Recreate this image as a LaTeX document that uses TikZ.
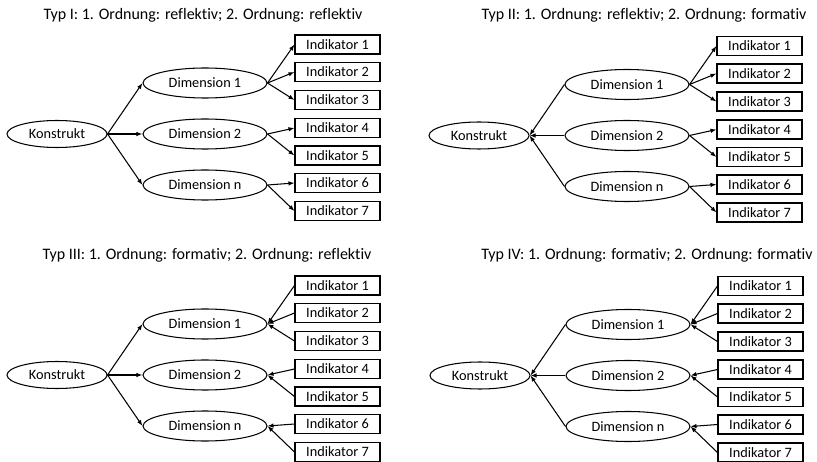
\documentclass[tikz,border=0pt]{standalone}
\usepackage{fontspec}
\setmainfont{Carlito}[Ligatures=NoCommon]
\usetikzlibrary{arrows.meta,shapes.geometric}

\tikzset{
  every node/.style={font=\fontsize{14.3}{16}\selectfont},
  rand/.style={draw, line width=1.05pt},
  konstrukt/.style={rand, ellipse, minimum width=100pt, minimum height=27pt, inner sep=0pt},
  dimension/.style={rand, ellipse, minimum width=124pt, minimum height=30pt, inner sep=0pt},
  indikator/.style={rand, rectangle, minimum width=85pt, minimum height=19pt, inner sep=0pt},
  titel/.style={font=\fontsize{16}{18}\selectfont},
  linie/.style={line width=1.05pt},
  hin/.style={linie, -{Latex[length=6pt,width=4.5pt]}},
  her/.style={linie, {Latex[length=6pt,width=4.5pt]}-},
}

% #1 prefix, #2/#3 shift, #4/#5 title position, #6 title,
% #7 direction of the first-order links, #8 direction of the second-order links
\newcommand\modell[8]{%
  \begin{scope}[shift={(#2,#3)}]
    \node[konstrukt] (#1k) at (57,134) {Konstrukt};
    \node[dimension] (#1d1) at (205,83) {Dimension 1};
    \node[dimension] (#1d2) at (205,134) {Dimension 2};
    \node[dimension] (#1dn) at (205,185) {Dimension n};
    \foreach \i/\y in {1/44.5,2/72,3/100,4/128,5/155.5,6/183,7/211}
      \node[indikator] (#1i\i) at (337.5,\y) {Indikator \i};
  \end{scope}
  \node[titel] (#1t) at (#4,#5) {#6};
  \foreach \d in {d1,d2,dn}
    \draw[#7] (#1k.east) -- (#1\d.west);
  \foreach \d/\i in {d1/1,d1/2,d1/3,d2/4,d2/5,dn/6,dn/7}
    \draw[#8] (#1\d.east) -- (#1i\i.west);
}

\begin{document}
\begin{tikzpicture}[x=1pt,y=-1pt]
  \useasboundingbox (0,0) rectangle (817,462);
  \modell{a}{0}{0}{203}{15}{Typ I: 1. Ordnung: reflektiv; 2. Ordnung: reflektiv}{hin}{hin}
  \modell{b}{422}{1.5}{644}{15}{Typ II: 1. Ordnung: reflektiv; 2. Ordnung: formativ}{her}{hin}
  \modell{c}{0}{241}{207}{255}{Typ III: 1. Ordnung: formativ; 2. Ordnung: reflektiv}{hin}{her}
  \modell{d}{423}{241.5}{647}{255}{Typ IV: 1. Ordnung: formativ; 2. Ordnung: formativ}{her}{her}
\end{tikzpicture}
\end{document}
